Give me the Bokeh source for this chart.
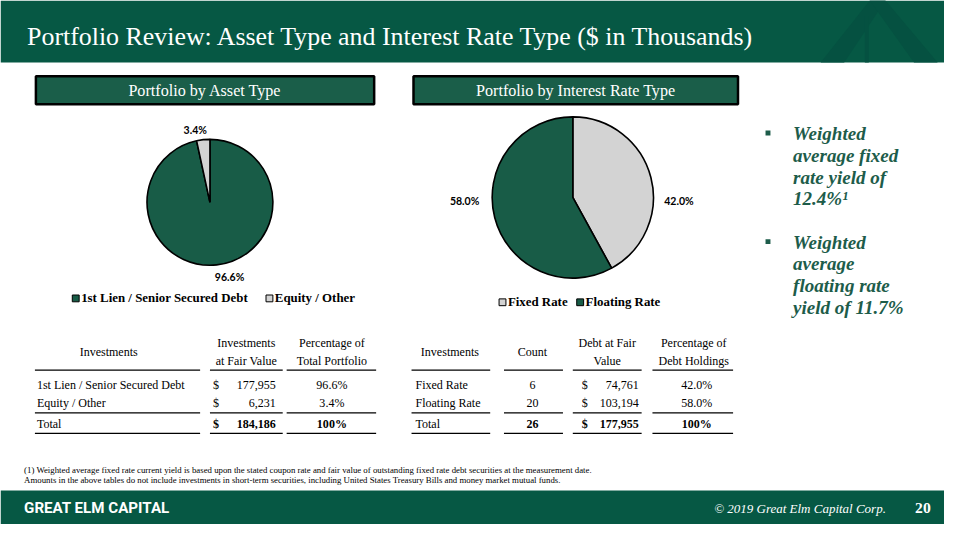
import math
from bokeh.plotting import figure
from bokeh.models import Range1d, ColumnDataSource
from bokeh.core.properties import value
from bokeh.embed import file_html
from bokeh.resources import INLINE

# ---------------- data ----------------
TITLE = "Portfolio Review: Asset Type and Interest Rate Type ($ in Thousands)"
asset_panel_title = "Portfolio by Asset Type"
rate_panel_title = "Portfolio by Interest Rate Type"

asset_types = ["1st Lien / Senior Secured Debt", "Equity / Other"]
asset_share = [96.6, 3.4]
asset_fair_value = [177955, 6231]

rate_types = ["Fixed Rate", "Floating Rate"]
rate_share = [42.0, 58.0]
rate_count = [6, 20]
rate_fair_value = [74761, 103194]

fixed_yield = 12.4
floating_yield = 11.7

asset_headers = [["Investments"], ["Investments", "at Fair Value"], ["Percentage of", "Total Portfolio"]]
rate_headers = [["Investments"], ["Count"], ["Debt at Fair", "Value"], ["Percentage of", "Debt Holdings"]]

footnotes = [
    "(1) Weighted average fixed rate current yield is based upon the stated coupon rate and fair value of outstanding fixed rate debt securities at the measurement date.",
    "Amounts in the above tables do not include investments in short-term securities, including United States Treasury Bills and money market mutual funds.",
]
company = "GREAT ELM CAPITAL"
copyright_txt = "\u00a9 2019 Great  Elm  Capital Corp."
page_no = "20"

# ---------------- styles ----------------
HEADER_GREEN = "#065844"
LOGO_GREEN = "#055141"
BOX_GREEN = "#1a5e49"
PIE_GREEN = "#185c47"
PIE_GRAY = "#d3d3d3"
TEXT_GREEN = "#1d5c4a"
SERIF = "Liberation Serif"

W, H = 960, 540
PW, PH = 944, 524
S = (PW / W + PH / H) / 2  # font scale for the slightly reduced slide

p = figure(width=PW, height=PH, output_backend="svg", toolbar_location=None,
           x_range=Range1d(0, W), y_range=Range1d(0, H), min_border=0)
p.axis.visible = False
p.grid.visible = False
p.outline_line_color = None
p.background_fill_color = "white"
p.border_fill_color = "white"


def Y(v):
    return H - v


def txt(x, y, s, size, color="black", font=SERIF, style="normal", align="left", baseline="middle"):
    p.text(x=[x], y=[Y(y)], text=[s], text_font=value(font), text_font_size=f"{size * S:.2f}px",
           text_font_style=style, text_color=color, text_align=align, text_baseline=baseline)


def box(x0, y0, x1, y1, fill, line=None, lw=0):
    p.quad(left=[x0], right=[x1], top=[Y(y0)], bottom=[Y(y1)], fill_color=fill,
           line_color=line, line_width=lw)


# ---------------- header / footer bands ----------------
box(0, 0, W, 64, HEADER_GREEN)
p.patch(x=[884, 900, 858, 834], y=[Y(0), Y(0), Y(64), Y(64)], fill_color=LOGO_GREEN, line_color=None)
p.patch(x=[884, 900, 953, 929], y=[Y(0), Y(0), Y(64), Y(64)], fill_color=LOGO_GREEN, line_color=None)
p.quad(left=[879], right=[883], top=[Y(16)], bottom=[Y(64)], fill_color=LOGO_GREEN, line_color=None)
txt(27, 37, TITLE, 26.5, color="white")

box(0, 505, W, H, HEADER_GREEN)
txt(24, 523, company, 15.5, color="white", font="Roboto", style="bold")
txt(907, 523, copyright_txt, 13.3, color="white", style="italic", align="right")
txt(946, 523, page_no, 16, color="white", style="bold", align="right")

# ---------------- panel titles ----------------
box(36, 78, 380, 107, BOX_GREEN, "black", 2.5)
txt(208, 93, asset_panel_title, 16.5, color="white", align="center")
box(420, 78, 750, 107, BOX_GREEN, "black", 2.5)
txt(585, 93, rate_panel_title, 16.5, color="white", align="center")


# ---------------- pies ----------------
def pie(cx, cy, r, shares, colors):
    total = sum(shares)
    starts, ends, cum = [], [], 0.0
    for s in shares:
        starts.append(math.pi / 2 - 2 * math.pi * (cum + s) / total)
        ends.append(math.pi / 2 - 2 * math.pi * cum / total)
        cum += s
    n = len(shares)
    src = ColumnDataSource(dict(x=[cx] * n, y=[Y(cy)] * n, start=starts, end=ends, color=colors))
    p.wedge(x="x", y="y", radius=r, start_angle="start", end_angle="end", fill_color="color",
            line_color="black", line_width=1.6, source=src)


asset_colors = [PIE_GREEN, PIE_GRAY]
rate_colors = [PIE_GRAY, PIE_GREEN]
pie(213, 208, 64, asset_share, asset_colors)
pie(582, 203, 82, rate_share, rate_colors)

LBL_FONT = "Lato"
asset_label_pos = [(233, 285), (198, 133)]
for (lx, ly), s in zip(asset_label_pos, asset_share):
    txt(lx, ly, f"{s:.1f}%", 10.8, font=LBL_FONT, style="bold", align="center")
rate_label_pos = [(690, 207), (472, 207)]
for (lx, ly), s in zip(rate_label_pos, rate_share):
    txt(lx, ly, f"{s:.1f}%", 10.8, font=LBL_FONT, style="bold", align="center")


# legends
def legend(items, colors, xs, y):
    for name, c, x in zip(items, colors, xs):
        box(x, y - 3.5, x + 7, y + 3.5, c, "black", 1)
        txt(x + 9, y, name, 13.2, style="bold")


legend(asset_types, asset_colors, [73, 270], 307)
legend(rate_types, rate_colors, [507, 586], 311)

# ---------------- bullets ----------------
bullet_lines = [
    ["Weighted", "average fixed", "rate yield of", f"{fixed_yield}%\u00b9"],
    ["Weighted", "average", "floating rate", f"yield of {floating_yield}%"],
]
for (by, lines) in zip([137, 249], bullet_lines):
    box(778, by - 3, 783, by + 2, TEXT_GREEN)
    for i, line in enumerate(lines):
        txt(806, by + i * 22.5, line, 19.5, color=TEXT_GREEN, style="bold italic")


# ---------------- tables ----------------
def fmt(v):
    return f"{v:,}"


TF = 12.3


def header(cols, centers, segs):
    for lines, cx in zip(cols, centers):
        if len(lines) == 1:
            txt(cx, 362, lines[0], TF, align="center")
        else:
            txt(cx, 353, lines[0], TF, align="center")
            txt(cx, 371, lines[1], TF, align="center")
    for yy in (381, 425, 446):
        p.segment(x0=[a for a, b in segs], x1=[b for a, b in segs], y0=[Y(yy)] * len(segs),
                  y1=[Y(yy)] * len(segs), line_color="black", line_width=1.2)


row_y = [396, 415, 436]

# table 1
header(asset_headers, [110, 250, 337], [(35, 203), (213, 287), (291, 382)])
total_assets = sum(asset_fair_value)
t1_rows = list(zip(asset_types, asset_fair_value, [f"{s:.1f}%" for s in asset_share]))
t1_rows.append(("Total", total_assets, f"{round(sum(asset_share))}%"))
for i, (name, val, pct) in enumerate(t1_rows):
    st = "bold" if name == "Total" else "normal"
    txt(37, row_y[i], name, TF)
    txt(216, row_y[i], "$", TF, style=st)
    txt(280, row_y[i], fmt(val), TF, align="right", style=st)
    txt(337, row_y[i], pct, TF, align="center", style=st)

# table 2
header(rate_headers, [457, 541, 617, 705], [(418, 498), (512, 572), (582, 652), (663, 745)])
t2_rows = list(zip(rate_types, rate_count, rate_fair_value, [f"{s:.1f}%" for s in rate_share]))
t2_rows.append(("Total", sum(rate_count), sum(rate_fair_value), f"{round(sum(rate_share))}%"))
for i, (name, cnt, val, pct) in enumerate(t2_rows):
    st = "bold" if name == "Total" else "normal"
    txt(422, row_y[i], name, TF)
    txt(541, row_y[i], str(cnt), TF, align="center", style=st)
    txt(591, row_y[i], "$", TF, style=st)
    txt(649, row_y[i], fmt(val), TF, align="right", style=st)
    txt(708, row_y[i], pct, TF, align="center", style=st)

# ---------------- footnotes ----------------
txt(24, 484, footnotes[0], 9.0)
txt(24, 494, footnotes[1], 9.0)

open("out.html", "w").write(file_html(p, INLINE))
